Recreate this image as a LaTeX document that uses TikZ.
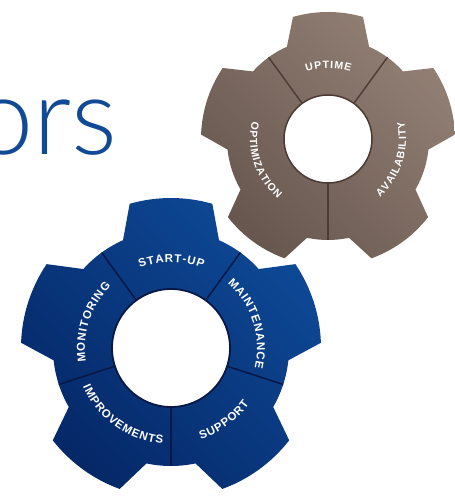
\documentclass[tikz,border=0pt]{standalone}
\usepackage{fontspec}
\setsansfont{Liberation Sans}
\newfontfamily\titlefont{Lato Light}
\usetikzlibrary{decorations.text}
\definecolor{bluelight}{RGB}{14,73,150}
\definecolor{bluedark}{RGB}{5,40,104}
\definecolor{blueline}{RGB}{8,24,70}
\definecolor{brownlight}{RGB}{146,128,117}
\definecolor{browndark}{RGB}{104,87,79}
\definecolor{brownline}{RGB}{76,59,52}
\definecolor{titleblue}{RGB}{16,74,150}
\newcommand\bluelbl{\sffamily\bfseries\fontsize{11.5}{12}\selectfont\color{white}\kern0.9pt}
\newcommand\brownlbl{\sffamily\bfseries\fontsize{10.5}{11}\selectfont\color{white}\kern1pt}
\tikzset{
  bluetext/.style={decorate, decoration={text along path, text align=center, text={|\bluelbl|#1}}},
  browntext/.style={decorate, decoration={text along path, text align=center, text={|\brownlbl|#1}}},
  blueshade/.style={top color=bluelight, bottom color=bluedark, shading angle=-45},
  brownshade/.style={top color=brownlight, bottom color=browndark, shading angle=-45},
}
\begin{document}
\begin{tikzpicture}[x=1pt,y=1pt]
\useasboundingbox (0,0) rectangle (455,499);
\clip (0,0) rectangle (455,499);
% title
\node[anchor=base east, inner sep=0, text=titleblue, font=\titlefont\fontsize{108}{108}\selectfont] (title) at (117,344) {ors};
% brown gear
\begin{scope}[shift={(328,360)}]
  \shade[brownshade] (66:101) \foreach \a in {90,162,234,306,378} {
    -- (\a-16:127) arc[start angle=\a-16, end angle=\a+16, radius=127]
    -- (\a+24:101) arc[start angle=\a+24, end angle=\a+48, radius=101] } -- cycle;
  \foreach \a in {126,54,-90} \draw[brownline, line width=1.4pt] (\a:44) -- (\a:101);
  \draw[brownline, line width=1.5pt, fill=white] (0,0) circle[radius=44];
  \path[browntext={UPTIME}] (130:71) arc[start angle=130, end angle=50, radius=71];
  \path[browntext={AVAILABILITY}] (-80:78) arc[start angle=-80, end angle=44, radius=78];
  \path[browntext={OPTIMIZATION}] (136:78) arc[start angle=136, end angle=260, radius=78];
\end{scope}
% blue gear
\begin{scope}[shift={(171,151)}]
  \shade[blueshade] (66:118) \foreach \a in {90,162,234,306,378} {
    -- (\a-16:150) arc[start angle=\a-16, end angle=\a+16, radius=150]
    -- (\a+24:118) arc[start angle=\a+24, end angle=\a+48, radius=118] } -- cycle;
  \foreach \a in {126,54,-18,-90,-162} \draw[blueline, line width=1.5pt] (\a:59) -- (\a:118);
  \draw[blueline, line width=1.8pt, fill=white] (0,0) circle[radius=59];
  \path[bluetext={START-UP}] (135:86) arc[start angle=135, end angle=45, radius=86];
  \path[bluetext={MAINTENANCE}] (63:86) arc[start angle=63, end angle=-27, radius=86];
  \path[bluetext={MONITORING}] (207:86) arc[start angle=207, end angle=117, radius=86];
  \path[bluetext={SUPPORT}] (-99:96) arc[start angle=-99, end angle=-9, radius=96];
  \path[bluetext={IMPROVEMENTS}] (-171:96) arc[start angle=-171, end angle=-81, radius=96];
\end{scope}
\end{tikzpicture}
\end{document}
